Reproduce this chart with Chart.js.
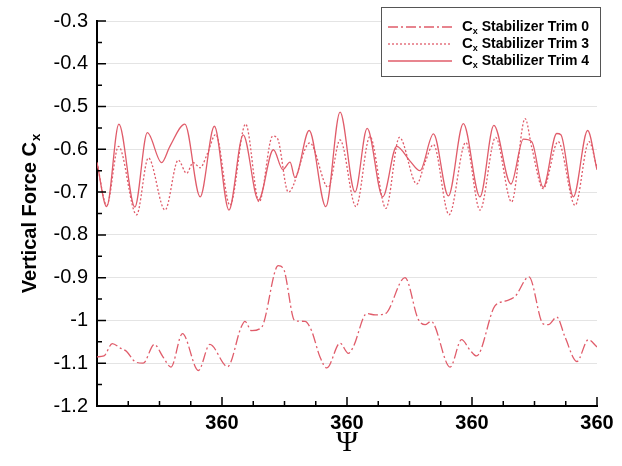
<!DOCTYPE html>
<html>
<head>
<meta charset="utf-8">
<script src="https://cdn.jsdelivr.net/npm/chart.js@4.4.0/dist/chart.umd.min.js"></script>
<style>
  html, body { margin: 0; padding: 0; background: #fff; }
  #grafico { display: block; }
</style>
</head>
<body>
<canvas id="grafico" width="622" height="466"></canvas>
<script>
// eixo x (azimute) e rotulos
var xTickLabels = ["", "360", "360", "360", "360"];
var seriesNames = ["Stabilizer Trim 0", "Stabilizer Trim 3", "Stabilizer Trim 4"];

// Trim 0 (traco-ponto)
var psiTrim0 = [0, 20, 44, 66, 86, 109, 133, 165, 190, 213, 246, 292, 325, 376, 415, 426, 445, 474, 522, 537,
  570, 599, 618, 642, 662, 700, 724, 738, 777, 801, 829, 887, 925, 945, 962, 1017, 1050, 1074, 1093, 1146,
  1175, 1204, 1244, 1285, 1300, 1324, 1348, 1382, 1415, 1440];
var cxTrim0 = [-1.085, -1.083, -1.054, -1.064, -1.073, -1.096, -1.100, -1.056, -1.085, -1.109, -1.031, -1.117,
  -1.056, -1.108, -1.016, -1.002, -1.024, -1.016, -0.872, -0.879, -1.001, -1.002, -1.024, -1.085, -1.111,
  -1.053, -1.077, -1.062, -0.984, -0.987, -0.985, -0.900, -0.997, -1.010, -1.002, -1.109, -1.045, -1.069,
  -1.083, -0.966, -0.955, -0.944, -0.898, -1.008, -1.010, -0.992, -1.039, -1.096, -1.045, -1.062];

// Trim 3 (pontilhado)
var psiTrim3 = [0, 28, 62, 114, 148, 196, 234, 258, 277, 297, 318, 342, 383, 428, 467, 506, 520, 551, 613, 666,
  700, 746, 786, 832, 871, 921, 945, 969, 1014, 1062, 1103, 1148, 1194, 1233, 1252, 1285, 1328, 1377, 1417, 1440];
var cxTrim3 = [-0.631, -0.731, -0.593, -0.753, -0.620, -0.742, -0.625, -0.656, -0.631, -0.643, -0.610, -0.565,
  -0.731, -0.541, -0.723, -0.569, -0.575, -0.700, -0.585, -0.689, -0.578, -0.734, -0.570, -0.738, -0.572,
  -0.681, -0.630, -0.589, -0.753, -0.584, -0.742, -0.572, -0.723, -0.528, -0.595, -0.692, -0.582, -0.731,
  -0.582, -0.643];

// Trim 4 (continuo)
var psiTrim4 = [0, 28, 63, 109, 145, 186, 210, 253, 297, 338, 380, 421, 465, 508, 535, 556, 570, 611, 659, 700,
  743, 778, 823, 863, 901, 930, 969, 1012, 1055, 1103, 1143, 1192, 1228, 1252, 1285, 1324, 1336, 1372, 1413, 1440];
var cxTrim4 = [-0.631, -0.734, -0.541, -0.735, -0.561, -0.631, -0.593, -0.541, -0.711, -0.546, -0.742, -0.566,
  -0.719, -0.601, -0.647, -0.630, -0.666, -0.556, -0.734, -0.513, -0.700, -0.551, -0.711, -0.593, -0.627,
  -0.650, -0.564, -0.709, -0.540, -0.711, -0.544, -0.681, -0.576, -0.582, -0.689, -0.563, -0.566, -0.711,
  -0.556, -0.648];

var corLinha = "rgb(224, 92, 106)";
var fonte = "'Liberation Sans', Arial, Helvetica, sans-serif";

function montaPontos(xs, ys) {
  return xs.map((x, i) => ({ x: x, y: ys[i] }));
}

// ticks internos (maiores e menores) estilo tecplot
const ticksPlugin = {
  id: "ticksInternos",
  afterDraw(chart) {
    const ctx = chart.ctx;
    const area = chart.chartArea;
    const sx = chart.scales.x;
    const sy = chart.scales.y;
    ctx.save();
    ctx.strokeStyle = "#000";
    ctx.lineWidth = 1.5;
    ctx.beginPath();
    const yt = sy.ticks.map((t) => t.value);
    yt.forEach((v, i) => {
      const py = sy.getPixelForValue(v);
      ctx.moveTo(area.left, py);
      ctx.lineTo(area.left + 9, py);
      if (i < yt.length - 1) {
        const pm = sy.getPixelForValue((v + yt[i + 1]) / 2);
        ctx.moveTo(area.left, pm);
        ctx.lineTo(area.left + 5, pm);
      }
    });
    const xt = sx.ticks.map((t) => t.value);
    xt.forEach((v, i) => {
      const px = sx.getPixelForValue(v);
      ctx.moveTo(px, area.bottom);
      ctx.lineTo(px, area.bottom - 9);
      if (i < xt.length - 1) {
        for (let k = 1; k < 4; k++) {
          const pm = sx.getPixelForValue(v + (xt[i + 1] - v) * k / 4);
          ctx.moveTo(pm, area.bottom);
          ctx.lineTo(pm, area.bottom - 5);
        }
      }
    });
    ctx.stroke();
    ctx.restore();
  },
};

// titulo do eixo y com subscrito
const tituloYPlugin = {
  id: "tituloY",
  afterDraw(chart) {
    const ctx = chart.ctx;
    const area = chart.chartArea;
    const txt = "Vertical Force C";
    ctx.save();
    ctx.fillStyle = "#000";
    ctx.font = "bold 20px " + fonte;
    const w1 = ctx.measureText(txt).width;
    ctx.font = "bold 13px " + fonte;
    const w2 = ctx.measureText("x").width;
    const total = w1 + w2 + 1;
    ctx.translate(36, (area.top + area.bottom) / 2);
    ctx.rotate(-Math.PI / 2);
    ctx.textBaseline = "alphabetic";
    ctx.textAlign = "left";
    ctx.font = "bold 20px " + fonte;
    ctx.fillText(txt, -total / 2, 0);
    ctx.font = "bold 13px " + fonte;
    ctx.fillText("x", -total / 2 + w1 + 1, 4);
    ctx.restore();
  },
};

// legenda em caixa no canto superior direito
const legendaPlugin = {
  id: "legendaCaixa",
  afterDraw(chart) {
    const ctx = chart.ctx;
    const bx = 381, by = 7, bw = 219, bh = 69;
    ctx.save();
    ctx.fillStyle = "#fff";
    ctx.fillRect(bx, by, bw, bh);
    ctx.strokeStyle = "#555";
    ctx.lineWidth = 1;
    ctx.strokeRect(bx + 0.5, by + 0.5, bw, bh);
    chart.data.datasets.forEach((ds, i) => {
      const y = 27 + i * 17;
      ctx.strokeStyle = ds.borderColor;
      ctx.lineWidth = ds.borderWidth;
      ctx.setLineDash(ds.borderDash || []);
      ctx.beginPath();
      ctx.moveTo(388, y);
      ctx.lineTo(452, y);
      ctx.stroke();
      ctx.setLineDash([]);
      ctx.fillStyle = "#000";
      ctx.textBaseline = "middle";
      ctx.textAlign = "left";
      ctx.font = "bold 15px " + fonte;
      ctx.fillText("C", 462, y);
      const wc = ctx.measureText("C").width;
      ctx.font = "bold 9px " + fonte;
      ctx.fillText("x", 462 + wc, y + 5);
      const wx = ctx.measureText("x").width;
      ctx.font = "bold 14px " + fonte;
      ctx.fillText(" " + seriesNames[i], 462 + wc + wx, y);
    });
    ctx.restore();
  },
};

const config = {
  type: "line",
  data: {
    datasets: [
      {
        label: "Cx " + seriesNames[0],
        data: montaPontos(psiTrim0, cxTrim0),
        borderColor: corLinha,
        borderWidth: 1.3,
        borderDash: [10, 3, 2, 3],
        pointRadius: 0,
        cubicInterpolationMode: "monotone",
        fill: false,
      },
      {
        label: "Cx " + seriesNames[1],
        data: montaPontos(psiTrim3, cxTrim3),
        borderColor: corLinha,
        borderWidth: 1.3,
        borderDash: [2, 2],
        pointRadius: 0,
        cubicInterpolationMode: "monotone",
        fill: false,
      },
      {
        label: "Cx " + seriesNames[2],
        data: montaPontos(psiTrim4, cxTrim4),
        borderColor: corLinha,
        borderWidth: 1.3,
        pointRadius: 0,
        cubicInterpolationMode: "monotone",
        fill: false,
      },
    ],
  },
  options: {
    responsive: false,
    animation: false,
    devicePixelRatio: 1,
    layout: { padding: { top: 17, right: 25, left: 0, bottom: 0 } },
    plugins: {
      legend: { display: false },
      tooltip: { enabled: false },
    },
    scales: {
      x: {
        type: "linear",
        min: 0,
        max: 1440,
        afterFit: (scale) => { scale.height = 60; },
        ticks: {
          stepSize: 360,
          autoSkip: false,
          maxRotation: 0,
          padding: 5,
          color: "#000",
          font: { family: fonte, size: 20, weight: "bold" },
          callback: (v, i) => xTickLabels[i] ?? "",
        },
        grid: { display: false, drawTicks: false },
        border: { display: true, color: "#000", width: 2 },
        title: {
          display: true,
          text: "Ψ",
          color: "#000",
          font: { family: "'Liberation Serif', 'DejaVu Serif', serif", size: 30 },
          padding: { top: 0, bottom: 5 },
        },
      },
      y: {
        min: -1.2,
        max: -0.3,
        afterFit: (scale) => { scale.width = 97; },
        ticks: {
          stepSize: 0.1,
          padding: 9,
          color: "#000",
          font: { family: fonte, size: 20 },
          callback: (v) => String(Number(v.toFixed(1))),
        },
        grid: { color: "#e4e4e4", lineWidth: 1, drawTicks: false },
        border: { display: true, color: "#000", width: 2 },
      },
    },
  },
  plugins: [ticksPlugin, tituloYPlugin, legendaPlugin],
};

new Chart(document.getElementById("grafico"), config);
</script>
</body>
</html>
